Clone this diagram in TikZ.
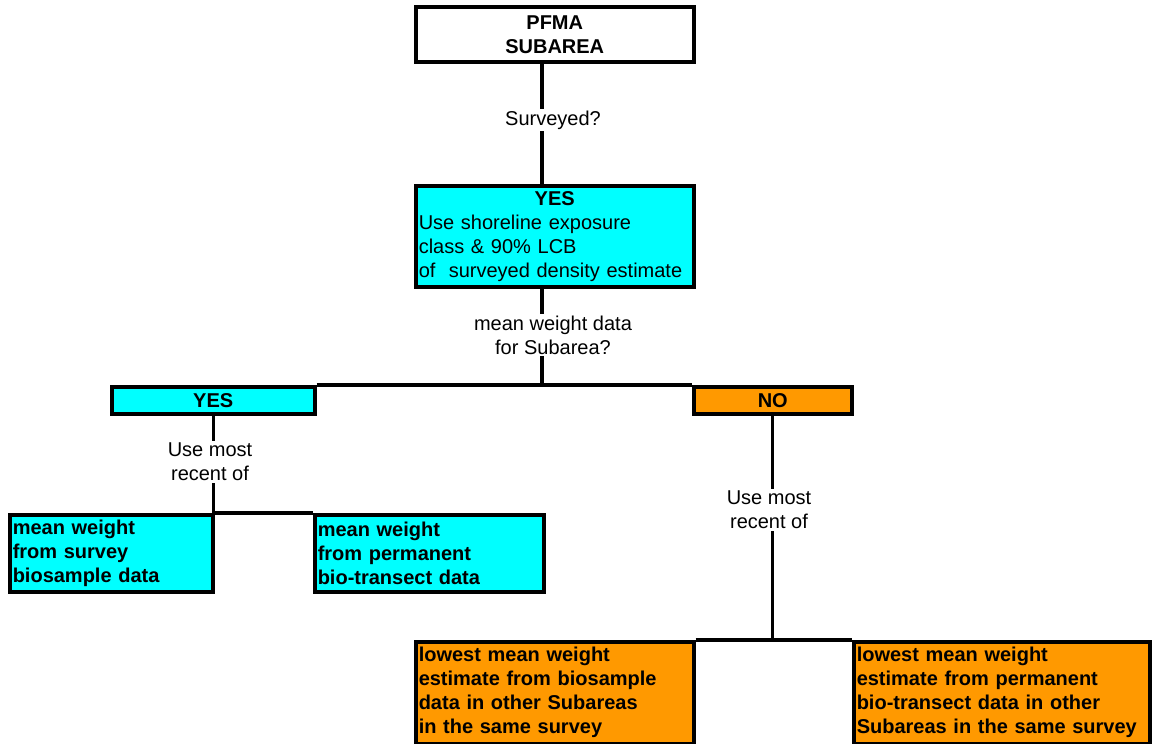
\documentclass[tikz,border=0pt]{standalone}
\usepackage{fontspec}
\setmainfont{Liberation Sans}
\definecolor{boxcyan}{HTML}{00FFFF}
\definecolor{boxorange}{HTML}{FF9900}
\begin{document}
\begin{tikzpicture}[x=1pt,y=-1pt,
  txt/.style={font=\fontsize{20}{24}\selectfont},
  box/.style={draw=black, line width=3.5pt, anchor=north west, inner sep=0pt, inner xsep=3pt, txt},
  lbl/.style={fill=white, inner sep=2pt, align=center, txt},
  conn/.style={line width=3.2pt}
]
\useasboundingbox (0,0) rectangle (1152,744);

% boxes
\node[box, fill=white, minimum width=278pt, minimum height=55pt, align=center, font=\fontsize{20}{24}\selectfont\bfseries] (top) at (414,5) {PFMA\\SUBAREA};
\node[box, fill=boxcyan, minimum width=278pt, minimum height=101pt, text width=272pt, align=left] (yes) at (414,184)
  {\makebox[\linewidth][c]{\bfseries YES}\\Use shoreline exposure\\class \& 90\% LCB\\of\ \ surveyed density estimate};
\node[box, fill=boxcyan, minimum width=203pt, minimum height=27pt, font=\fontsize{20}{24}\selectfont\bfseries] (ybox) at (110,385) {YES};
\node[box, fill=boxorange, minimum width=158pt, minimum height=27pt, font=\fontsize{20}{24}\selectfont\bfseries] (nbox) at (692,385) {NO};
\node[box, fill=boxcyan, minimum width=203pt, minimum height=77pt, text width=197pt, align=left, font=\fontsize{20}{24}\selectfont\bfseries] (lb1) at (8,513)
  {mean weight\\from survey\\biosample data};
\node[box, fill=boxcyan, minimum width=229pt, minimum height=77pt, text width=223pt, align=left, font=\fontsize{20}{24}\selectfont\bfseries] (lb2) at (313,513)
  {mean weight\\from permanent\\bio-transect data};
\node[box, fill=boxorange, minimum width=278pt, minimum height=102pt, text width=272pt, align=left, font=\fontsize{20}{24}\selectfont\bfseries] (bb1) at (414,640)
  {lowest mean weight\\estimate from biosample\\data in other Subareas\\in the same survey};
\node[box, fill=boxorange, minimum width=296pt, minimum height=102pt, text width=290pt, align=left, font=\fontsize{20}{24}\selectfont\bfseries] (bb2) at (852,640)
  {lowest mean weight\\estimate from permanent\\bio-transect data in other\\Subareas in the same survey};

\coordinate (j1) at (542,385);

% connectors
\draw[conn] (top.south -| j1) -- (yes.north -| j1);
\draw[conn] (yes.south -| j1) -- (j1);
\draw[conn] (ybox.north east) -- (nbox.north west);
\draw[conn] (ybox.south) -- (ybox.south |- lb1.north);
\draw[conn] (lb1.north east) -- (lb2.north west);
\draw[conn] (nbox.south) -- (nbox.south |- bb1.north);
\draw[conn] (bb1.north east) -- (bb2.north west);

% labels
\node[lbl] (l1) at (553,120) {Surveyed?};
\node[lbl] (l2) at (553,335) {mean weight data\\for Subarea?};
\node[lbl] (l3) at (210,462) {Use most\\recent of};
\node[lbl] (l4) at (769,510) {Use most\\recent of};
\end{tikzpicture}
\end{document}
